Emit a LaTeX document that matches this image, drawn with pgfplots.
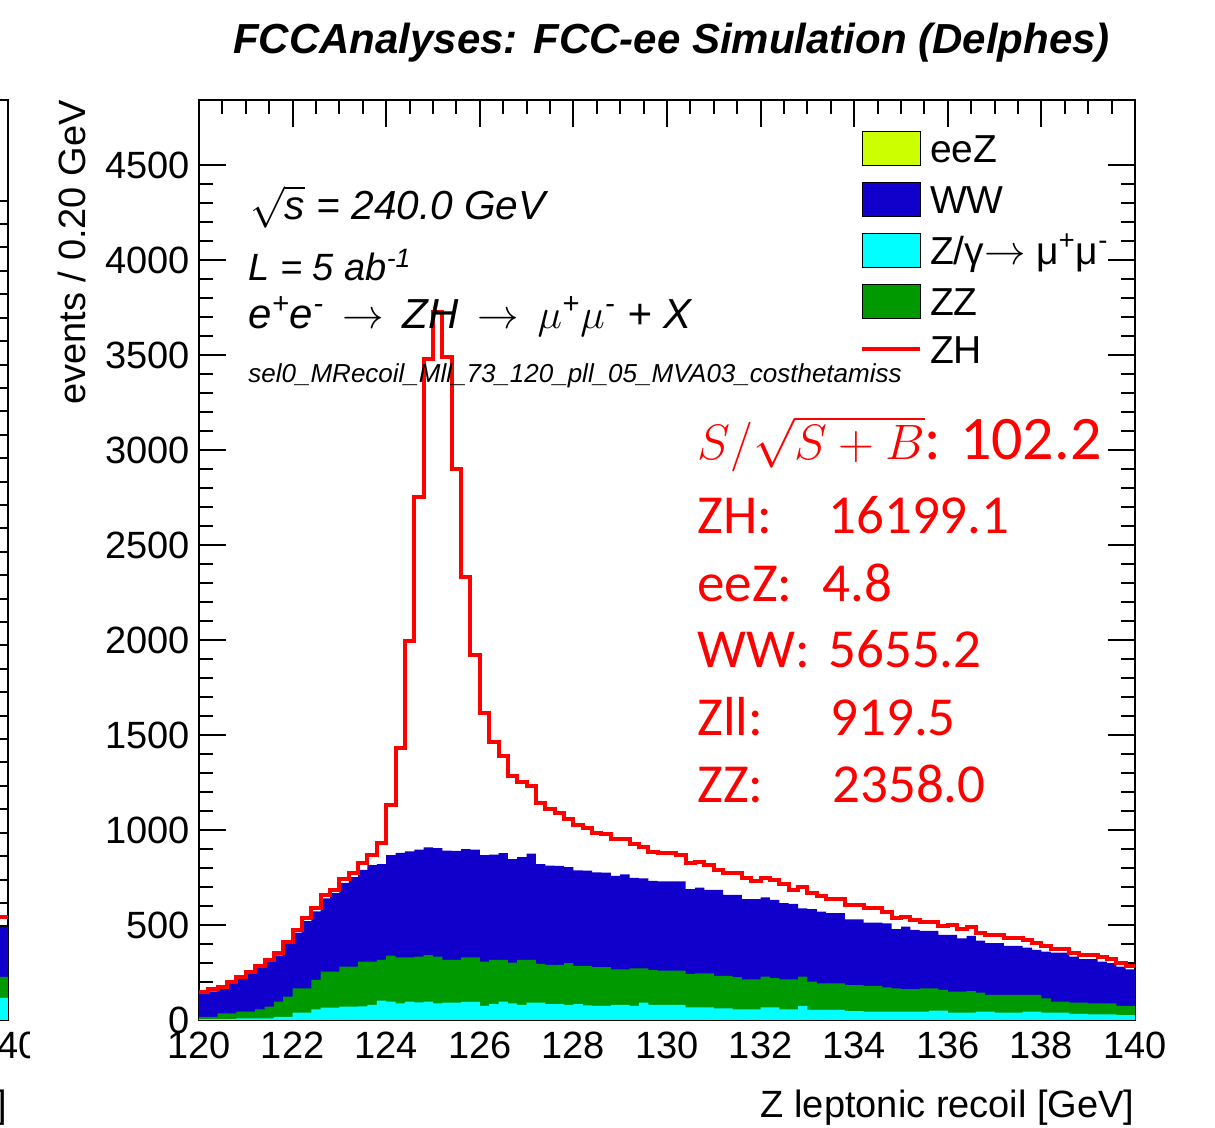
\documentclass[border=0pt]{standalone}
\usepackage{pgfplots}
\pgfplotsset{compat=1.18}
\usepackage{pgfplotstable}
\usepackage{fontspec}
\setmainfont{Liberation Sans}
\newfontfamily\calibri{Carlito}

\definecolor{eeZcol}{RGB}{204,255,0}
\definecolor{WWcol}{RGB}{17,0,204}
\definecolor{Zllcol}{RGB}{0,255,255}
\definecolor{ZZcol}{RGB}{0,153,0}
\definecolor{ZHcol}{RGB}{255,0,0}

% Z leptonic recoil, events per 0.2 GeV bin (x = lower bin edge);
% the last row repeats the final bin to close the step line at 140 GeV
\pgfplotstableread{
x zll zz ww zh
120.0 5 12 123 9
120.2 5 12 133 12
120.4 5 30 130 10
120.6 5 30 155 9
120.8 9 35 174 10
121.0 9 35 201 10
121.2 9 47 218 10
121.4 9 61 235 11
121.6 17 80 243 11
121.8 17 106 277 13
122.0 39 128 293 14
122.2 39 128 353 16
122.4 56 155 361 16
122.6 65 190 385 19
122.8 65 190 413 17
123.0 70 211 441 19
123.2 70 211 471 21
123.4 72 235 483 36
123.6 79 228 508 54
123.8 102 214 504 111
124.0 97 242 529 262
124.2 88 242 550 551
124.4 97 233 557 1110
124.6 93 241 562 1858
124.8 97 245 566 2569
125.0 88 246 571 2820
125.2 91 225 576 2595
125.4 91 225 574 2008
125.6 95 235 569 1433
125.8 95 235 566 1027
126.0 74 233 561 748
126.2 84 232 554 591
126.4 97 219 562 509
126.6 88 214 544 440
126.8 79 237 541 393
127.0 91 225 559 354
127.2 91 204 525 322
127.4 84 206 523 297
127.6 84 206 521 278
127.8 79 220 505 253
128.0 84 201 503 239
128.2 77 208 501 224
128.4 74 204 499 205
128.6 74 204 497 205
128.8 79 188 492 195
129.0 79 188 500 187
129.2 74 198 476 179
129.4 91 181 473 165
129.6 79 184 469 151
129.8 79 181 469 149
130.0 79 181 469 149
130.2 79 181 469 140
130.4 67 175 447 137
130.6 67 179 451 137
130.8 67 179 439 132
131.0 61 171 453 105
131.2 61 171 427 114
131.4 56 169 434 114
131.6 56 158 422 111
131.8 56 158 422 93
132.0 67 161 417 102
132.2 67 153 412 106
132.4 56 158 401 100
132.6 56 158 397 74
132.8 74 154 360 114
133.0 53 149 381 85
133.2 53 140 378 79
133.4 53 140 369 76
133.6 53 140 369 76
133.8 47 137 346 76
134.0 47 137 346 76
134.2 44 135 334 75
134.4 44 135 334 75
134.6 44 128 337 62
134.8 44 123 311 58
135.0 44 118 330 52
135.2 44 118 312 53
135.4 44 123 302 49
135.6 49 118 302 49
135.8 49 109 290 47
136.0 39 110 299 52
136.2 39 110 281 48
136.4 39 113 291 45
136.6 44 100 274 42
136.8 44 88 272 44
137.0 39 93 272 44
137.2 39 93 258 40
137.4 39 93 258 40
137.6 44 88 249 40
137.8 44 88 237 35
138.0 39 75 246 30
138.2 39 58 258 17
138.4 39 58 258 17
138.6 32 59 243 21
138.8 32 59 229 22
139.0 30 58 232 22
139.2 30 58 219 23
139.4 30 58 211 21
139.6 26 48 207 21
139.8 26 48 193 17
140.0 26 48 193 17
}\recoil

% neighbouring pad: only its last bins show at the left edge
\pgfplotstableread{
x zll zz ww zh
139.6 94 90 213 43
139.8 94 90 213 43
140.0 94 90 213 43
}\neighbour

\pgfplotsset{
  rootframe/.style={
    scale only axis, width=468pt, height=460pt,
    xmin=120, xmax=140, ymin=0,
    xtick={120,122,124,126,128,130,132,134,136,138,140},
    minor x tick num=3, minor y tick num=4,
    tick align=inside,
    major tick length=13.5pt, minor tick length=7pt,
    every tick/.style={black, line width=1pt},
    axis line style={line width=1pt},
    tick label style={font=\fontsize{19}{19}\selectfont},
    yticklabel style={inner sep=0pt, xshift=-4.5pt},
    xticklabel style={inner sep=0pt, yshift=-6pt},
    /pgf/number format/assume math mode=true,
    /pgf/number format/set thousands separator={},
    label style={font=\fontsize{19}{19}\selectfont},
    xlabel={Z leptonic recoil [GeV]},
    xlabel style={at={(axis description cs:1,-0.0957)}, anchor=east, inner sep=0pt},
  },
  boxlegend/.style={legend image code/.code={\fill[##1] (0pt,-8.5pt) rectangle (29pt,8.5pt);}},
  linelegend/.style={legend image code/.code={\draw[##1] (0pt,0pt) -- (29pt,0pt);}},
}

\begin{document}
\begin{tikzpicture}
% left neighbouring pad, cut at the pad boundary
\begin{scope}
\clip (-99.5pt,-54pt) rectangle (-84.5pt,510pt);
\begin{axis}[rootframe, at={(-95.5pt,0pt)}, anchor=south east, ymax=3930,
  ytick={0,500,...,3500}]
  \addplot[const plot, fill=WWcol, draw=none] table[x=x, y expr=\thisrow{zll}+\thisrow{zz}+\thisrow{ww}] {\neighbour} \closedcycle;
  \addplot[const plot, fill=ZZcol, draw=none] table[x=x, y expr=\thisrow{zll}+\thisrow{zz}] {\neighbour} \closedcycle;
  \addplot[const plot, fill=Zllcol, draw=none] table[x=x, y=zll] {\neighbour} \closedcycle;
  \addplot[const plot, draw=ZHcol, line width=2pt] table[x=x, y expr=\thisrow{zll}+\thisrow{zz}+\thisrow{ww}+\thisrow{zh}] {\neighbour};
\end{axis}
\end{scope}

\begin{axis}[rootframe, at={(0pt,0pt)}, anchor=south west,
  ymax=4842, ytick={0,500,...,4500},
  ylabel={events / 0.20 GeV},
  ylabel style={at={(axis description cs:-0.1357,1)}, anchor=east, inner sep=0pt},
  title={FCCAnalyses: FCC-ee Simulation (Delphes)},
  title style={font=\fontsize{21}{21}\selectfont\bfseries\itshape,
    at={(axis description cs:0.5048,1.049)}, anchor=center, inner sep=0pt},
  legend cell align=left,
  legend style={at={(axis description cs:0.7062,0.9663)}, anchor=north west,
    draw=none, fill=none, inner sep=0pt, outer sep=0pt,
    row sep=8.15pt, column sep=4pt,
    font=\fontsize{19.5}{19.5}\selectfont,
    nodes={inner sep=0pt, text height=14pt, text depth=0pt}},
]
  % stacked backgrounds, drawn from the top of the stack down
  \addplot[const plot, fill=WWcol, draw=none, forget plot]
    table[x=x, y expr=\thisrow{zll}+\thisrow{zz}+\thisrow{ww}] {\recoil} \closedcycle;
  \addplot[const plot, fill=ZZcol, draw=none, forget plot]
    table[x=x, y expr=\thisrow{zll}+\thisrow{zz}] {\recoil} \closedcycle;
  \addplot[const plot, fill=Zllcol, draw=none, forget plot]
    table[x=x, y=zll] {\recoil} \closedcycle;
  % signal stacked on top
  \addplot[const plot, draw=ZHcol, line width=2pt, forget plot]
    table[x=x, y expr=\thisrow{zll}+\thisrow{zz}+\thisrow{ww}+\thisrow{zh}] {\recoil};

  \addlegendimage{boxlegend, fill=eeZcol}
  \addlegendentry{eeZ}
  \addlegendimage{boxlegend, fill=WWcol}
  \addlegendentry{WW}
  \addlegendimage{boxlegend, fill=Zllcol}
  \addlegendentry{Z/γ$\rightarrow$ μ\textsuperscript{+}μ\textsuperscript{-}}
  \addlegendimage{boxlegend, fill=ZZcol}
  \addlegendentry{ZZ}
  \addlegendimage{linelegend, draw=ZHcol, line width=2pt}
  \addlegendentry{ZH}

  \node[anchor=base west, inner sep=0pt, font=\fontsize{20.3}{20.3}\selectfont\itshape]
    at (rel axis cs:0.0545,0.8696) {$\sqrt{\mbox{\itshape s}}$ = 240.0 GeV};
  \node[anchor=base west, inner sep=0pt, font=\fontsize{19}{19}\selectfont\itshape]
    at (rel axis cs:0.0524,0.8043) {L = 5 ab\textsuperscript{-1}};
  \node[anchor=base west, inner sep=0pt, font=\fontsize{21}{21}\selectfont\itshape]
    at (rel axis cs:0.0524,0.7511) {e\textsuperscript{+}e\textsuperscript{-}\ \,$\rightarrow$\ \,ZH\ \,$\rightarrow$\ \,$\mu$\textsuperscript{+}$\mu$\textsuperscript{-} + X};
  \node[anchor=base west, inner sep=0pt, font=\fontsize{13}{13}\selectfont\itshape]
    at (rel axis cs:0.0524,0.6924) {sel0\_MRecoil\_Mll\_73\_120\_pll\_05\_MVA03\_costhetamiss};

  \begin{scope}[every node/.style={anchor=base west, inner sep=0pt, text=ZHcol,
      font=\fontsize{27.5}{27.5}\selectfont\calibri}]
    \node at (rel axis cs:0.532,0.6087) {\fontsize{28.5}{28.5}\selectfont$S/\sqrt{S+B}$\fontsize{31}{31}\selectfont: 102.2};
    \node at (rel axis cs:0.532,0.5283) {ZH:};
    \node at (rel axis cs:0.672,0.5283) {16199.1};
    \node at (rel axis cs:0.532,0.4554) {eeZ:};
    \node at (rel axis cs:0.6656,0.4554) {4.8};
    \node at (rel axis cs:0.532,0.3826) {WW:};
    \node at (rel axis cs:0.672,0.3826) {5655.2};
    \node at (rel axis cs:0.532,0.3087) {Zll:};
    \node at (rel axis cs:0.6741,0.3087) {919.5};
    \node at (rel axis cs:0.532,0.2359) {ZZ:};
    \node at (rel axis cs:0.6763,0.2359) {2358.0};
  \end{scope}
\end{axis}
\pgfresetboundingbox
\useasboundingbox (-99.5pt,-54pt) rectangle (508pt,510pt);
\end{tikzpicture}
\end{document}
